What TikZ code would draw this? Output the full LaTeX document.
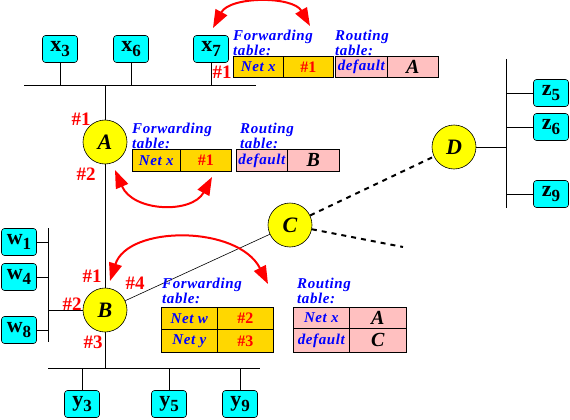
\documentclass[tikz,border=0pt]{standalone}
\usepackage{fontspec}
\setmainfont{Liberation Serif}
\newfontfamily\wideserif[LetterSpace=4]{Liberation Serif}
\usetikzlibrary{arrows.meta}
\definecolor{hostcyan}{RGB}{0,255,255}
\definecolor{rtyellow}{RGB}{255,255,0}
\definecolor{fwgold}{RGB}{255,215,0}
\definecolor{rtpink}{RGB}{255,192,192}
\definecolor{lblblue}{RGB}{0,0,255}
\definecolor{lblred}{RGB}{255,0,0}
\newcommand\hsub[2]{#1\raisebox{-5pt}{\fontsize{17}{17}\selectfont #2}}
\tikzset{
  host/.style={draw, fill=hostcyan, rounded corners=3pt, minimum width=35pt, minimum height=27pt, inner sep=0pt, line width=0.6pt, font=\fontsize{22}{22}\selectfont\bfseries},
  router/.style={circle, draw, fill=rtyellow, minimum size=44pt, inner sep=0pt, line width=0.6pt, font=\fontsize{22}{22}\selectfont\bfseries\itshape},
  port/.style={text=lblred, inner sep=0pt, font=\fontsize{19}{19}\selectfont\bfseries},
  hdr/.style={text=lblblue, align=left, inner sep=0pt, anchor=north west, font=\wideserif\fontsize{15}{12}\selectfont\bfseries\itshape},
  cellbase/.style={draw, line width=0.7pt, inner sep=0pt, anchor=north west, minimum height=21pt},
  fnet/.style={cellbase, fill=fwgold, text=lblblue, font=\wideserif\fontsize{15}{15}\selectfont\bfseries\itshape},
  fport/.style={cellbase, fill=fwgold, text=lblred, font=\fontsize{16}{16}\selectfont\bfseries},
  rnet/.style={cellbase, fill=rtpink, text=lblblue, font=\wideserif\fontsize{15}{15}\selectfont\bfseries\itshape},
  rhop/.style={cellbase, fill=rtpink, text=black, font=\fontsize{20}{20}\selectfont\bfseries\itshape},
  link/.style={line width=0.8pt},
  dashlink/.style={line width=2pt, dash pattern=on 5pt off 5pt},
  swaparrow/.style={draw=lblred, line width=2pt, {Triangle[length=18pt,width=13pt,fill=lblred]}-{Triangle[length=18pt,width=13pt,fill=lblred]}}
}
\begin{document}
\begin{tikzpicture}[x=1pt,y=-1pt]
\useasboundingbox (0,0) rectangle (570,420);
% bus coordinates
\coordinate (xbusL) at (24,85);
\coordinate (xbusR) at (256,85);
\coordinate (wbusT) at (48,228);
\coordinate (wbusB) at (48,342);
\coordinate (ybusL) at (48,368);
\coordinate (ybusR) at (260,368);
\coordinate (zbusT) at (506,59);
\coordinate (zbusB) at (506,208);
\coordinate (cfree) at (403,247);
% hosts
\node[host] (x3) at (60,49) {\hsub{x}{3}};
\node[host] (x6) at (131,49) {\hsub{x}{6}};
\node[host] (x7) at (211,49) {\hsub{x}{7}};
\node[host] (z5) at (551,93) {\hsub{z}{5}};
\node[host] (z6) at (551,127) {\hsub{z}{6}};
\node[host] (z9) at (551,194) {\hsub{z}{9}};
\node[host] (w1) at (19,242) {\hsub{w}{1}};
\node[host] (w4) at (19,277) {\hsub{w}{4}};
\node[host] (w8) at (19,330) {\hsub{w}{8}};
\node[host] (y3) at (82,404) {\hsub{y}{3}};
\node[host] (y5) at (169,404) {\hsub{y}{5}};
\node[host] (y9) at (240,404) {\hsub{y}{9}};
% routers
\node[router] (A) at (105,142) {A};
\node[router] (B) at (105,310) {B};
\node[router] (C) at (290,225) {C};
\node[router] (D) at (454,147) {D};
% buses
\draw[link] (xbusL) -- (xbusR);
\draw[link] (wbusT) -- (wbusB);
\draw[link] (ybusL) -- (ybusR);
\draw[link] (zbusT) -- (zbusB);
% stems
\foreach \h in {x3,x6,x7} \draw[link] (\h.south) -- (\h.south |- xbusL);
\foreach \h in {y3,y5,y9} \draw[link] (\h.north) -- (\h.north |- ybusL);
\foreach \h in {w1,w4,w8} \draw[link] (\h.east) -- (\h.east -| wbusT);
\foreach \h in {z5,z6,z9} \draw[link] (\h.west) -- (\h.west -| zbusT);
% router links
\draw[link] (A.north) -- (A.north |- xbusL);
\draw[link] (A.south) -- (B.north);
\draw[link] (B.west) -- (B.west -| wbusT);
\draw[link] (B.south) -- (B.south |- ybusL);
\draw[line width=0.6pt] (B) -- (C);
\draw[link] (D.east) -- (D.east -| zbusT);
\draw[dashlink] (C) -- (D);
\draw[dashlink] (C) -- (cfree);
% port labels
\node[port] (p7) at (222,72) {\#1};
\node[port] (pA1) at (81,119) {\#1};
\node[port] (pA2) at (86,174) {\#2};
\node[port] (pB1) at (92,276) {\#1};
\node[port] (pB2) at (72,304) {\#2};
\node[port] (pB3) at (93,342) {\#3};
\node[port] (pB4) at (135,283) {\#4};
% tables near x7
\node[hdr] (fh1) at (233,30) {Forwarding\\table:};
\node[hdr] (rh1) at (335,30) {Routing\\table:};
\node[fnet, minimum width=50pt] (f1a) at (233,56) {Net x};
\node[fport, minimum width=50pt] (f1b) at (283,56) {\#1};
\node[rnet, minimum width=52pt] (r1a) at (335,56) {default};
\node[rhop, minimum width=51pt] (r1b) at (387,56) {A};
% tables near A
\node[hdr] (fh2) at (132,123) {Forwarding\\table:};
\node[hdr] (rh2) at (240,123) {Routing\\table:};
\node[fnet, minimum width=48pt, minimum height=22pt] (f2a) at (132,149) {Net x};
\node[fport, minimum width=51pt, minimum height=22pt] (f2b) at (180,149) {\#1};
\node[rnet, minimum width=51pt, minimum height=22pt] (r2a) at (236,149) {default};
\node[rhop, minimum width=52pt, minimum height=22pt] (r2b) at (287,149) {B};
% tables near B
\node[hdr] (fh3) at (162,278) {Forwarding\\table:};
\node[hdr] (rh3) at (297,278) {Routing\\table:};
\node[fnet, minimum width=56pt, minimum height=22pt] (f3a) at (161,307) {Net w};
\node[fport, minimum width=56pt, minimum height=22pt] (f3b) at (217,307) {\#2};
\node[fnet, minimum width=56pt, minimum height=23pt] (f3c) at (161,329) {Net y};
\node[fport, minimum width=56pt, minimum height=23pt] (f3d) at (217,329) {\#3};
\node[rnet, minimum width=56pt, minimum height=21pt] (r3a) at (293,307) {Net x};
\node[rhop, minimum width=57pt, minimum height=21pt] (r3b) at (349,307) {A};
\node[rnet, minimum width=56pt, minimum height=24pt] (r3c) at (293,328) {default};
\node[rhop, minimum width=57pt, minimum height=24pt] (r3d) at (349,328) {C};
% swap arrows
\coordinate (a1s) at (213,28);
\coordinate (a1e) at (310,26);
\coordinate (a2s) at (115,170);
\coordinate (a2e) at (212,177);
\coordinate (a3s) at (110,281);
\coordinate (a3e) at (268,284);
\draw[swaparrow] (a1s) .. controls (230,-4) and (293,-4) .. (a1e);
\draw[swaparrow] (a2s) .. controls (133,212) and (192,214) .. (a2e);
\draw[swaparrow] (a3s) .. controls (128,225) and (238,225) .. (a3e);
\end{tikzpicture}
\end{document}
